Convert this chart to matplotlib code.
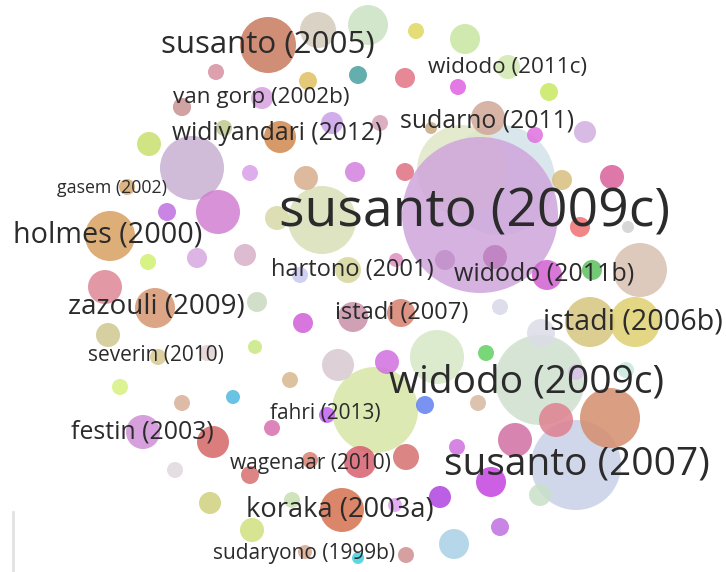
import matplotlib
matplotlib.use("Agg")
import matplotlib.pyplot as plt
from matplotlib.patches import Circle

# -----------------------------------
# bubble data (map coordinates, radius, colour)
# -----------------------------------

bubble_x = [500, 462, 480, 540, 576, 375, 322, 268, 192, 610, 437, 640, 318, 368,
            110, 155, 590, 635, 342, 218, 105, 465, 488, 280, 143, 213, 556, 515,
            360, 491, 338, 353, 401, 454, 108, 406, 541, 547, 495, 445, 348, 277,
            149, 612, 405, 387, 440, 540, 405, 332, 306, 355, 585, 262, 562, 580,
            592, 358, 303, 257, 245, 197, 508, 252, 210, 425, 167, 148, 120, 182,
            158, 207, 127, 290, 182, 272, 327, 250, 310, 175, 478, 457, 500, 292,
            305, 406, 395, 216, 308, 182, 224, 380, 431, 535, 416, 549, 458, 250,
            300, 255, 233, 396, 486, 626, 576, 500, 628, 358]
bubble_y = [180, 170, 215, 380, 465, 410, 220, 45, 168, 418, 357, 270, 30, 25,
            236, 308, 322, 322, 510, 212, 287, 39, 118, 137, 432, 442, 420, 440,
            462, 482, 365, 317, 313, 544, 335, 457, 333, 275, 257, 260, 270, 218,
            144, 177, 78, 362, 497, 495, 172, 123, 178, 172, 132, 98, 180, 227,
            270, 75, 323, 302, 255, 258, 67, 530, 503, 405, 212, 262, 387, 403,
            357, 353, 187, 380, 107, 428, 415, 475, 460, 470, 403, 447, 527, 500,
            552, 555, 505, 72, 81, 107, 128, 123, 128, 135, 31, 92, 87, 173,
            275, 347, 397, 260, 353, 370, 372, 307, 227, 558]
bubble_r = [55, 45, 78, 45, 45, 43, 34, 28, 32, 30, 27, 27, 18, 20,
            25, 20, 25, 25, 22, 22, 17, 15, 17, 16, 17, 16, 17, 17,
            16, 15, 16, 15, 14, 15, 12, 13, 14, 15, 12, 10, 13, 12,
            12, 12, 10, 12, 11, 11, 9, 11, 12, 10, 11, 11, 10, 10,
            10, 9, 10, 10, 11, 10, 12, 12, 11, 9, 9, 8, 8, 8,
            8, 8, 8, 8, 9, 8, 8, 9, 8, 8, 8, 8, 9, 8,
            7, 8, 7, 8, 9, 9, 8, 8, 6, 8, 8, 9, 8, 8,
            8, 7, 7, 7, 8, 8, 8, 8, 6, 6]
bubble_color = ["#d3e3ea", "#dfe7c6", "#cfa5dc", "#cfe0cf", "#c9d1e8", "#d6e6a6", "#d9e0b7",
                "#c97a5f", "#c8b0d2", "#d48d6c", "#d6e7c6", "#d9c1b2", "#d3cbbb", "#c9e2c2",
                "#d7a061", "#d69570", "#d6c57d", "#dfcf70", "#d6714f", "#d27fd2", "#df8696",
                "#c8e6a1", "#d1a797", "#d1874c", "#cf8fd6", "#d56666", "#df8090", "#d06fa2",
                "#d75f6e", "#c443e0", "#d8c8cf", "#c88fa8", "#d6806f", "#a9d0e6", "#cfc78e",
                "#d67070", "#dcdce8", "#d05fd0", "#bf7ebf", "#c18fc9", "#d6d69c", "#d9d9a7",
                "#c8e06f", "#d8609a", "#e27383", "#d06fe0", "#b043e0", "#c8e0c8", "#e07080",
                "#c9a0e8", "#d8ae8c", "#d47fdf", "#d0b0e0", "#d8a0e0", "#d7bf7f", "#f07070",
                "#5dbf5d", "#4aa0a0", "#d05fd8", "#c9d9c1", "#d8b0c8", "#d8a8e0", "#d2e8b0",
                "#d0e07e", "#d0d07f", "#6080f0", "#c070e0", "#d0f070", "#d8f080", "#d8b098",
                "#d8c88f", "#e2d2d2", "#d8a870", "#d8b88f", "#d0a0a0", "#d870b0", "#c060f0",
                "#d87070", "#d88070", "#e0d8e0", "#d8b8a0", "#d070e0", "#c070e0", "#c8e0b0",
                "#d8a890", "#d09090", "#e0a0f0", "#d890a0", "#e0c060", "#d0a0a0", "#c0c890",
                "#d8a0b8", "#c8a880", "#e070e0", "#e0d860", "#c8e860", "#e060e0", "#d8a0e8",
                "#c8c8f0", "#c8e880", "#50b8e0", "#e090c0", "#60d060", "#c8e8e0", "#d8c0e8",
                "#d8d8e8", "#d0d0d0", "#40d0e0"]

# -----------------------------------
# labels
# -----------------------------------

label_text = ["susanto (2009c)", "susanto (2005)", "susanto (2007)", "widodo (2009c)",
              "holmes (2000)", "zazouli (2009)", "istadi (2006b)", "koraka (2003a)",
              "widiyandari (2012)", "widodo (2011b)", "festin (2003)", "sudarno (2011)",
              "widodo (2011c)", "van gorp (2002b)", "hartono (2001)", "istadi (2007)",
              "fahri (2013)", "wagenaar (2010)", "gasem (2002)", "severin (2010)",
              "sudaryono (1999b)"]
label_x = [475, 268, 577, 527, 108, 156, 633, 340, 277, 544, 142, 487, 508, 261,
           352, 402, 325, 310, 112, 156, 304]
label_y = [213, 45, 464, 383, 235, 307, 322, 510, 134, 274, 432, 121, 68, 97,
           270, 313, 414, 463, 188, 356, 553]
label_size = [38.5, 22.5, 28, 28, 20.7, 20, 20.6, 19.6, 17.7, 18, 17.9, 17.8, 16.2, 16.2,
              17, 17, 15, 15, 12.8, 15, 15]

# -----------------------------------
# draw
# -----------------------------------

fig = plt.figure(figsize=(7.26, 5.72), dpi=100)
ax = fig.add_axes([0, 0, 1, 1])
ax.set_xlim(0, 726)
ax.set_ylim(572, 0)
ax.axis("off")

for x, y, r, c in zip(bubble_x, bubble_y, bubble_r, bubble_color):
    ax.add_patch(Circle((x, y), r, facecolor=c, edgecolor="none", alpha=0.85))

for t, x, y, s in zip(label_text, label_x, label_y, label_size):
    ax.text(x, y, t, fontsize=s, family="Open Sans", color="#2b2b2b",
            ha="center", va="center")

# thin frame edge in the lower left corner
ax.plot([13, 13], [512, 572], color="#e2e2e2", lw=2)

fig.savefig("out.png", dpi=100)
